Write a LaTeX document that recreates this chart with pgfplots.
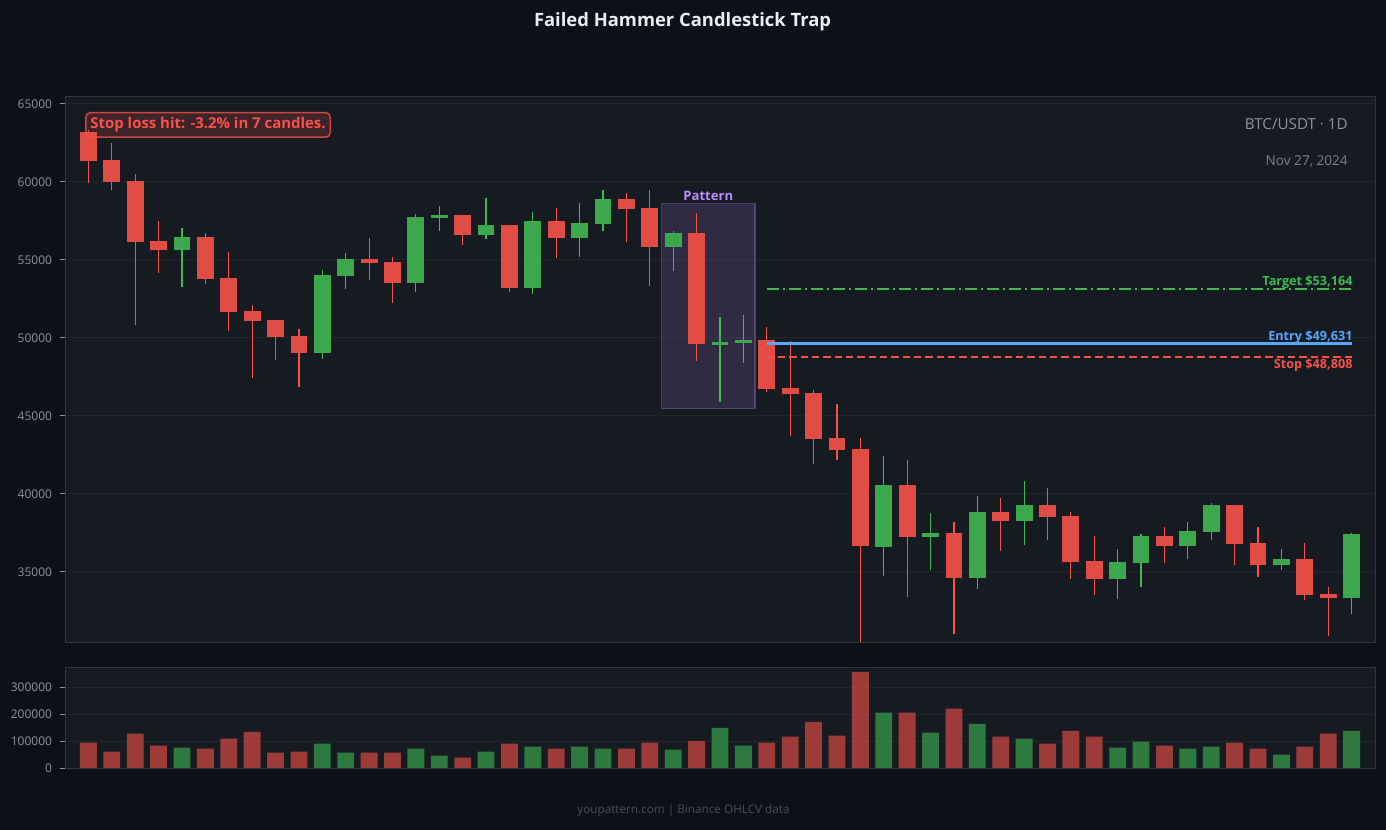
\documentclass[border=0pt]{standalone}
\usepackage{pgfplots}
\pgfplotsset{compat=1.18}
\usepackage{pgfplotstable}
\usepackage{fontspec}
\setmainfont{Open Sans}

\definecolor{figbg}{HTML}{0D1117}
\definecolor{axbg}{HTML}{161B22}
\definecolor{gridc}{HTML}{21262D}
\definecolor{spinec}{HTML}{30363D}
\definecolor{tickc}{HTML}{8B949E}
\definecolor{titlec}{HTML}{E6EDF3}
\definecolor{footc}{HTML}{484F58}
\definecolor{upc}{HTML}{3FB950}
\definecolor{dnc}{HTML}{F85149}
\definecolor{bluec}{HTML}{58A6FF}
\definecolor{purc}{HTML}{BC8CFF}

% up (green) candles: index open high low close volume
\pgfplotstableread{
i o h l c v
4 55622 57051 53289 56455 75200
10 49019 54359 48673 54019 90000
11 53955 55449 53160 55045 56700
14 53506 57949 52968 57737 71500
15 57673 58462 56878 57865 45600
17 56583 58974 56366 57224 60400
19 53186 58077 52840 57481 78900
21 56391 58654 55212 57353 78900
22 57289 59487 56878 58891 71500
25 55814 56859 54314 56712 67800
27 49532 51346 45917 49724 149000
28 49660 51474 48404 49853 82600
34 36583 42436 34763 40558 205000
36 37224 38782 35147 37481 131000
38 34596 39872 33930 38827 164000
40 38250 40833 36712 39276 108500
44 34533 36475 33290 35623 75200
45 35558 37436 34059 37290 97400
47 36649 38206 35854 37610 71500
48 37546 39424 37072 39277 78900
51 35431 36475 35149 35815 49300
54 33315 37501 32309 37418 138000
}\uptab

% down (red) candles
\pgfplotstableread{
i o h l c v
0 63186 63300 59955 61346 93700
1 61391 62500 59487 59981 60400
2 60045 60513 50853 56154 127000
3 56199 57500 54186 55622 82600
5 56455 56731 53462 53763 71500
6 53827 55513 50468 51647 108500
7 51712 52115 47455 51071 134000
8 51135 51135 48590 50045 56700
9 50109 50577 46859 49019 60400
12 55045 56410 53737 54789 56700
13 54853 55192 52263 53506 56700
16 57865 57865 55981 56583 38200
18 57224 57224 52968 53186 90000
20 57481 58333 55148 56391 71500
23 58891 59295 56173 58250 71500
24 58314 59487 53353 55814 93700
26 56712 58013 48545 49596 101000
29 49853 50705 46519 46712 93700
30 46776 49808 43737 46391 116000
31 46455 46667 41942 43506 171000
32 43571 45769 42199 42801 120000
33 42865 43571 30532 36647 356700
35 40558 42179 33417 37224 205000
37 37481 38205 31045 34596 220000
39 38827 39744 36365 38250 116000
41 39276 40385 37071 38506 90000
42 38572 38846 34571 35623 138000
43 35687 37309 33527 34533 116000
46 37290 37886 35597 36649 82600
49 39277 39277 35469 36777 93700
50 36841 37886 34700 35431 71500
52 35815 36860 33226 33508 78900
53 33572 34040 30918 33315 127000
}\dntab

\pgfplotsset{
  darkax/.style={
    scale only axis,
    width=982.5pt,
    xmin=-1, xmax=55,
    axis background/.style={fill=axbg},
    axis line style={draw=spinec, line width=0.7pt},
    xtick=\empty,
    ytick pos=left,
    ymajorgrids,
    grid style={draw=gridc, line width=0.7pt},
    major tick style={draw=tickc, line width=0.7pt},
    major tick length=4pt,
    tick align=outside,
    yticklabel style={font=\fontsize{9}{11}\selectfont, text=tickc, xshift=-2.2pt,
      /pgf/number format/fixed, /pgf/number format/precision=0},
    /pgf/number format/fixed,
    /pgf/number format/1000 sep={},
    /pgf/number format/assume math mode=true,
    scaled y ticks=false,
  },
}

\begin{document}
\begin{tikzpicture}
\fill[figbg] (0,0) rectangle (1039.5pt,622.5pt);

% title and footer
\node[font=\fontsize{13.8}{16}\bfseries, text=titlec] at (511.9pt,606.5pt) {Failed Hammer Candlestick Trap};
\node[font=\fontsize{8.8}{10}\selectfont, text=footc] at (512.6pt,15pt) {youpattern.com | Binance OHLCV data};

% main price axis
\begin{axis}[darkax,
  at={(48.75pt,141pt)}, anchor=south west,
  height=409.5pt,
  ymin=30510, ymax=65510,
  ytick={35000,40000,45000,50000,55000,60000,65000},
]
% pattern box
\draw[draw=purc, draw opacity=0.3, fill=purc, fill opacity=0.15, line width=0.9pt]
  (axis cs:24.5,45458) rectangle (axis cs:28.5,58593);
\node[anchor=south, font=\fontsize{9.8}{11}\bfseries, text=purc, inner sep=0pt]
  at (axis cs:26.5,58593) [yshift=2.2pt] {Pattern};

% wicks
\addplot[draw=none, forget plot, error bars/.cd, y dir=plus, y explicit, error mark=none,
  error bar style={draw=upc, line width=0.9pt}]
  table[x=i, y=l, y error plus expr=\thisrow{h}-\thisrow{l}] {\uptab};
\addplot[draw=none, forget plot, error bars/.cd, y dir=plus, y explicit, error mark=none,
  error bar style={draw=dnc, line width=0.9pt}]
  table[x=i, y=l, y error plus expr=\thisrow{h}-\thisrow{l}] {\dntab};
% bodies
\addplot[draw=none, forget plot, error bars/.cd, y dir=plus, y explicit, error mark=none,
  error bar style={draw=upc!90!axbg, line width=12.6pt}]
  table[x=i, y=o, y error plus expr=\thisrow{c}-\thisrow{o}] {\uptab};
\addplot[draw=none, forget plot, error bars/.cd, y dir=plus, y explicit, error mark=none,
  error bar style={draw=dnc!90!axbg, line width=12.6pt}]
  table[x=i, y=c, y error plus expr=\thisrow{o}-\thisrow{c}] {\dntab};

% trade levels
\addplot[upc, line width=1.5pt, dash pattern=on 9pt off 3pt on 1.5pt off 3pt] coordinates {(29,53164) (54,53164)};
\addplot[bluec, line width=1.9pt] coordinates {(29,49631) (54,49631)};
\addplot[dnc, line width=1.5pt, dash pattern=on 5.5pt off 3pt] coordinates {(29,48808) (54,48808)};
\node[anchor=base east, inner sep=0pt, font=\fontsize{9.5}{11}\bfseries, text=upc] at (axis cs:54.05,53164) [yshift=2pt] {Target \$53,164};
\node[anchor=base east, inner sep=0pt, font=\fontsize{9.5}{11}\bfseries, text=bluec] at (axis cs:54.05,49631) [yshift=2.2pt] {Entry \$49,631};
\node[anchor=north east, inner sep=0pt, font=\fontsize{9.5}{11}\bfseries, text=dnc] at (axis cs:54.05,48808) [yshift=-1.6pt] {Stop \$48,808};

% annotations
\node[anchor=north west, rounded corners=3.5pt, draw=dnc, draw opacity=0.8, line width=1.1pt,
  fill=dnc, fill opacity=0.18, text opacity=1, text=dnc, font=\fontsize{11.2}{13}\bfseries,
  inner xsep=3.5pt, inner ysep=4.0pt, text height=8.2pt, text depth=2.3pt]
  at (rel axis cs:0.0153,0.971) {Stop loss hit: -3.2\% in 7 candles.};
\node[anchor=east, inner sep=0pt, font=\fontsize{11.4}{13}\selectfont, text=tickc]
  at (rel axis cs:0.9794,0.9487) {BTC/USDT · 1D};
\node[anchor=east, inner sep=0pt, font=\fontsize{10.2}{12}\selectfont, text=tickc!85!axbg]
  at (rel axis cs:0.9794,0.881) {Nov 27, 2024};
\end{axis}

% volume axis
\begin{axis}[darkax,
  at={(48.75pt,46.5pt)}, anchor=south west,
  height=75.75pt,
  ymin=0, ymax=374500,
  ytick={0,100000,200000,300000},
]
\addplot[ybar, bar width=0.72, bar shift=0pt, draw=none, fill=dnc, fill opacity=0.6, forget plot]
  table[x=i, y=v] {\dntab};
\addplot[ybar, bar width=0.72, bar shift=0pt, draw=none, fill=upc, fill opacity=0.6, forget plot]
  table[x=i, y=v] {\uptab};
\end{axis}
\end{tikzpicture}
\end{document}
